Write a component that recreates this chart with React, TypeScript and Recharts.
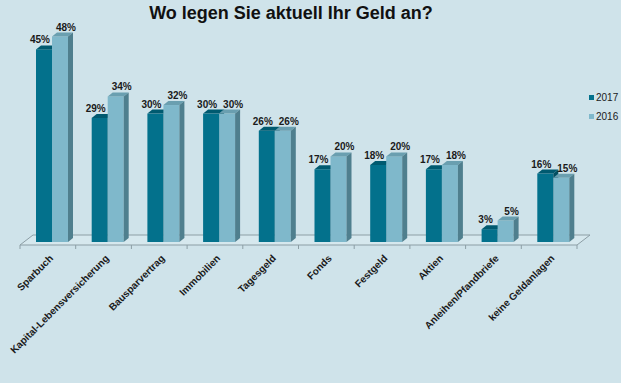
import React from 'react';
import { BarChart, Bar, XAxis, YAxis, LabelList } from 'recharts';

// categories and values
const CATEGORIES = [
  'Sparbuch',
  'Kapital-Lebensversicherung',
  'Bausparvertrag',
  'Immobilien',
  'Tagesgeld',
  'Fonds',
  'Festgeld',
  'Aktien',
  'Anleihen/Pfandbriefe',
  'keine Geldanlagen',
];
const VALUES_2017 = [45, 29, 30, 30, 26, 17, 18, 17, 3, 16];
const VALUES_2016 = [48, 34, 32, 30, 26, 20, 20, 18, 5, 15];
const SERIES = ['2017', '2016'];

const data = CATEGORIES.map((name, i) => ({ name, y2017: VALUES_2017[i], y2016: VALUES_2016[i] }));

const W = 621;
const H = 383;
const PLOT_LEFT = 24;
const PLOT_RIGHT = 581;
const PLOT_TOP = 28;
const BASE_Y = 242;
const BG = '#cfe3ea';
const FONT = '"Liberation Sans", Arial, sans-serif';
const DX = 5;
const DY = 4;

const DARK = { front: '#03718c', top: '#005a70', side: '#024f62' };
const LIGHT = { front: '#7fb8cb', top: '#6a9fb0', side: '#4f7f8e' };

const make3d = (c: typeof DARK) => (props: any) => {
  const { x, y, width: w, height: h } = props;
  if (h == null || h <= 0) return <g />;
  return (
    <g>
      <rect x={x} y={y} width={w} height={h} fill={c.front} />
      <polygon points={`${x},${y} ${x + DX},${y - DY} ${x + w + DX},${y - DY} ${x + w},${y}`} fill={c.top} />
      <polygon points={`${x + w},${y} ${x + w + DX},${y - DY} ${x + w + DX},${y + h - DY} ${x + w},${y + h}`} fill={c.side} />
    </g>
  );
};

const makeLabel = (shift: number) => (props: any) => {
  const { x, y, width, value } = props;
  return (
    <text x={x + width / 2 + shift} y={y - 6} textAnchor="middle" fontSize={10} fontWeight="bold" fontFamily={FONT} fill="#1a1a1a">
      {value}%
    </text>
  );
};

const CategoryTick = (props: any) => {
  const { x, payload } = props;
  const ty = 259;
  return (
    <text x={x + 2} y={ty} transform={`rotate(-45 ${x + 2} ${ty})`} textAnchor="end" fontSize={10} fontWeight="bold" fontFamily={FONT} fill="#1a1a1a">
      {payload.value}
    </text>
  );
};

// 3D floor under the bars
const Floor = () => {
  const band = (PLOT_RIGHT - PLOT_LEFT) / CATEGORIES.length;
  const frontL = PLOT_LEFT - 4;
  const frontR = PLOT_RIGHT - 4;
  const ticks = Array.from({ length: CATEGORIES.length + 1 }, (_, i) => frontL + i * band);
  return (
    <svg width={W} height={H} style={{ position: 'absolute', left: 0, top: 0 }}>
      <polygon
        points={`${frontL},245 ${frontL + 13},235 ${frontR + 13},235 ${frontR},245`}
        fill="#d6e8ee"
        stroke="#8c9ea5"
        strokeWidth={1}
      />
      {ticks.map((t, i) => (
        <line key={i} x1={t} y1={245} x2={t} y2={249} stroke="#8c9ea5" />
      ))}
    </svg>
  );
};

export default function App() {
  return (
    <div style={{ position: 'absolute', left: 0, top: 0, width: W, height: H, background: BG, overflow: 'hidden' }}>
      <Floor />
      <div style={{ position: 'absolute', left: 0, top: 3, width: 582, textAlign: 'center', fontFamily: FONT, fontWeight: 'bold', fontSize: 18, color: '#111' }}>
        Wo legen Sie aktuell Ihr Geld an?
      </div>
      <div style={{ position: 'absolute', left: 589, top: 88, fontFamily: FONT, fontSize: 10, color: '#1a1a1a', lineHeight: '19px' }}>
        {SERIES.map((label, i) => (
          <div key={label} style={{ display: 'flex', alignItems: 'center' }}>
            <span style={{ width: 5, height: 5, background: i === 0 ? DARK.front : LIGHT.front, marginRight: 2, display: 'inline-block' }} />
            {label}
          </div>
        ))}
      </div>
      <div style={{ position: 'absolute', left: 0, top: 0 }}>
        <BarChart
          width={W}
          height={H}
          data={data}
          margin={{ top: PLOT_TOP, right: W - PLOT_RIGHT, left: PLOT_LEFT, bottom: 0 }}
          barSize={16}
          barGap={0}
        >
          <XAxis dataKey="name" height={H - BASE_Y} axisLine={false} tickLine={false} interval={0} tick={<CategoryTick />} />
          <YAxis hide domain={[0, 50]} />
          <Bar dataKey="y2017" name={SERIES[0]} fill={DARK.front} shape={make3d(DARK)} isAnimationActive={false}>
            <LabelList dataKey="y2017" content={makeLabel(-4)} />
          </Bar>
          <Bar dataKey="y2016" name={SERIES[1]} fill={LIGHT.front} shape={make3d(LIGHT)} isAnimationActive={false}>
            <LabelList dataKey="y2016" content={makeLabel(6)} />
          </Bar>
        </BarChart>
      </div>
    </div>
  );
}
